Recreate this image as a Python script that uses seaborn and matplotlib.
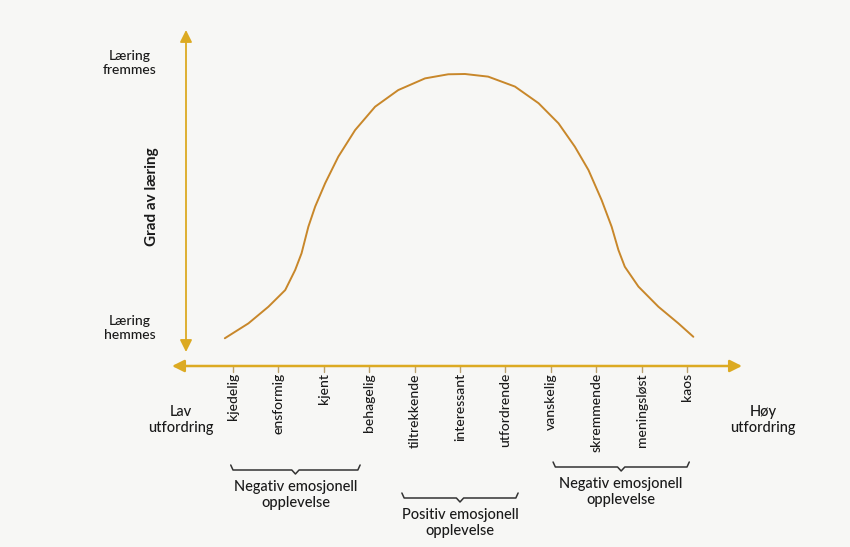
"""Yerkes-Dodson style diagram: grad av læring vs. utfordring."""
import matplotlib.pyplot as plt
import seaborn as sns
import pandas as pd

# ---- data -------------------------------------------------------------
tick_labels = ["kjedelig", "ensformig", "kjent", "behagelig", "tiltrekkende",
               "interessant", "utfordrende", "vanskelig", "skremmende",
               "meningsløst", "kaos"]
# curve: x in tick units (kjedelig = 0), y = degree of learning (peak = 1)
curve_x = [-0.18, 0.34, 0.78, 1.15, 1.37, 1.51, 1.66, 1.81, 2.03, 2.32,
           2.69, 3.13, 3.64, 4.23, 4.74, 5.11, 5.62, 6.21, 6.73, 7.17,
           7.53, 7.83, 8.12, 8.34, 8.49, 8.63, 8.93, 9.37, 9.81, 10.14]
curve_y = [0.095, 0.146, 0.203, 0.260, 0.329, 0.386, 0.477, 0.546, 0.626,
           0.717, 0.808, 0.888, 0.945, 0.985, 0.999, 1.0, 0.991, 0.957,
           0.900, 0.831, 0.751, 0.671, 0.568, 0.477, 0.397, 0.340, 0.272,
           0.203, 0.146, 0.100]
group_labels = ["Negativ emosjonell\nopplevelse", "Positiv emosjonell\nopplevelse",
                "Negativ emosjonell\nopplevelse"]
group_start = [-0.05, 3.72, 7.05]
group_end = [2.8, 6.28, 10.05]

# ---- layout (pixel mapping of the 850x547 canvas) ---------------------
W, H = 850, 547
X0, DX = 233, 45.4       # pixel of tick 0, pixels per tick
Y0, DY = 366, 292        # pixel of baseline, pixels per unit of learning


def P(xp, yp):
    """pixel -> data coordinates"""
    return (xp - X0) / DX, (Y0 - yp) / DY


AXIS_C = "#dcaa22"
CURVE_C = "#c8872a"
TEXT_C = "#1a1a1a"
WEIGHT = "medium"

sns.set_theme(style="white")
plt.rcParams["font.family"] = ["Lato", "DejaVu Sans"]

fig = plt.figure(figsize=(W / 100, H / 100), dpi=100)
fig.patch.set_facecolor("#f7f7f5")
ax = fig.add_axes([0, 0, 1, 1])
ax.set_facecolor("#f7f7f5")
ax.set_xlim(P(0, 0)[0], P(W, 0)[0])
ax.set_ylim(P(0, H)[1], P(0, 0)[1])
ax.axis("off")

df = pd.DataFrame({"x": curve_x, "y": curve_y})
sns.lineplot(data=df, x="x", y="y", ax=ax, color=CURVE_C, lw=1.4, sort=False)

# axes with arrowheads
arrow = dict(arrowstyle="<|-|>", color=AXIS_C, lw=1.8, mutation_scale=18,
             shrinkA=0, shrinkB=0)
ax.annotate("", xy=P(742, Y0), xytext=P(172, Y0), arrowprops=arrow)
ax.annotate("", xy=P(186, 30), xytext=P(186, 352),
            arrowprops={**arrow, "lw": 1.3})

# ticks + tick labels
for i, lab in enumerate(tick_labels):
    ax.plot([i, i], [P(0, Y0)[1], P(0, Y0 + 6)[1]], color="#b8a070", lw=1)
    ax.text(i, P(0, Y0 + 7)[1], lab, rotation=90, ha="center", va="top",
            fontsize=10, color=TEXT_C, fontweight=WEIGHT)

# y-axis texts
ax.text(*P(130, 63), "Læring\nfremmes", ha="center", va="center",
        fontsize=10, color=TEXT_C, linespacing=1.15, fontweight=WEIGHT)
ax.text(*P(130, 328), "Læring\nhemmes", ha="center", va="center",
        fontsize=10, color=TEXT_C, linespacing=1.15, fontweight=WEIGHT)
ax.text(*P(152, 197), "Grad av læring", rotation=90, ha="center",
        va="center", fontsize=11, fontweight="bold", color=TEXT_C)

# x-axis end texts
ax.text(*P(181, 420), "Lav\nutfordring", ha="center", va="center",
        fontsize=10.5, color=TEXT_C, linespacing=1.15, fontweight=WEIGHT)
ax.text(*P(763, 420), "Høy\nutfordring", ha="center", va="center",
        fontsize=10.5, color=TEXT_C, linespacing=1.15, fontweight=WEIGHT)

# braces with group texts
brace_y = [470, 498, 467]
for a, b, yp, lab in zip(group_start, group_end, brace_y, group_labels):
    ytop = P(0, yp - 5)[1]
    ybot = P(0, yp)[1]
    ytip = P(0, yp + 4)[1]
    mid = (a + b) / 2
    ax.plot([a, a + 0.05, mid - 0.08, mid, mid + 0.08, b - 0.05, b],
            [ytop, ybot, ybot, ytip, ybot, ybot, ytop],
            color="#333333", lw=1.1)
    ax.text(mid, P(0, yp + 10)[1], lab, ha="center", va="top",
            fontsize=10.5, color=TEXT_C, linespacing=1.2, fontweight=WEIGHT)

fig.savefig("out.png", dpi=100, facecolor=fig.get_facecolor())
